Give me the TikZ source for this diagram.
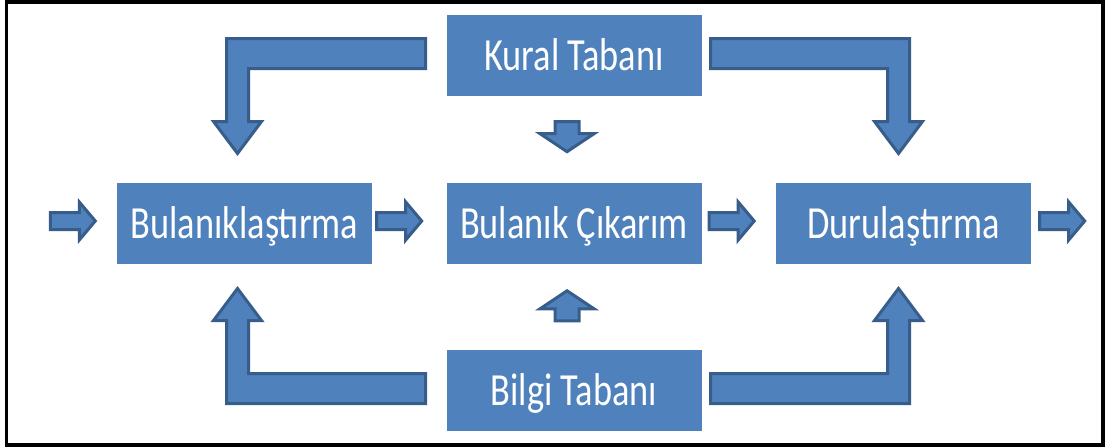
\documentclass[tikz,border=0pt]{standalone}
\usepackage{fontspec}
\setmainfont{Carlito}
\usetikzlibrary{calc}
\definecolor{boxblue}{RGB}{79,129,189}
\definecolor{edgeblue}{RGB}{56,93,138}
% small block arrows
\newcommand{\sagok}[1]{\draw[okblok] #1 ++(1.5,-8.5) -- ++(29,0) -- ++(0,-10.5) -- ++(16,19) -- ++(-16,19) -- ++(0,-10.5) -- ++(-29,0) -- cycle;}
\newcommand{\asagi}[1]{\draw[okblok] #1 ++(-12,1.5) -- ++(24,0) -- ++(0,12) -- ++(15,0) -- ++(-27,18) -- ++(-27,-18) -- ++(15,0) -- cycle;}
\newcommand{\yukari}[1]{\draw[okblok] #1 ++(-12,-1.5) -- ++(24,0) -- ++(0,-12) -- ++(15,0) -- ++(-27,-18) -- ++(-27,18) -- ++(15,0) -- cycle;}
\begin{document}
\begin{tikzpicture}[x=1pt,y=-1pt,
    kutu/.style={fill=boxblue, minimum width=255pt, minimum height=81pt, inner sep=0pt,
        text=white, font=\fontsize{46}{50}\selectfont, text height=30pt, text depth=0pt},
    okblok/.style={fill=boxblue, draw=edgeblue, line width=3pt, line join=miter}]
                \useasboundingbox (0,0) rectangle (1105,447);
                \draw[line width=3.5pt] (6.5,2) rectangle (1103,445);
                \node[kutu] (kural) at (574,55.5) {\scalebox{.79}[1]{Kural Tabanı}};
                \node[kutu] (bul) at (244.5,223) {\scalebox{.79}[1]{Bulanıklaştırma}};
                \node[kutu] (cik) at (574,223) {\scalebox{.79}[1]{Bulanık Çıkarım}};
                \node[kutu] (dur) at (903.5,223) {\scalebox{.79}[1]{Durulaştırma}};
                \node[kutu] (bilgi) at (574,390) {\scalebox{.79}[1]{Bilgi Tabanı}};
                \sagok{($(bul.west)+(-68,-2)$)}
                \sagok{($(bul.east)+(3,-2)$)}
                \sagok{($(cik.east)+(6,-2)$)}
                \sagok{($(dur.east)+(7,-2)$)}
                \asagi{($(kural.south)+(-7,24)$)}
                \yukari{($(bilgi.north)+(-7,-27)$)}
                % bent arrows
                \coordinate (orta) at ($(cik.center)+(-6,-2)$);
                \foreach \sx/\sy in {1/1,-1/1,1/-1,-1/-1}
                    \draw[okblok, shift={(orta)}, xscale=\sx, yscale=\sy] (-142.5,-182.5) -- (-341.5,-182.5) -- (-341.5,-99.5) -- (-354.5,-99.5) -- (-330.5,-67.5) -- (-306.5,-99.5) -- (-319.5,-99.5) -- (-319.5,-152.5) -- (-142.5,-152.5) -- cycle;
            \end{tikzpicture}
\end{document}
